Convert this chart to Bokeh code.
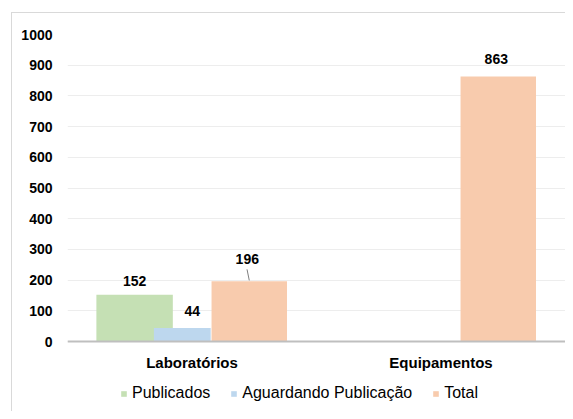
from bokeh.plotting import figure
from bokeh.models import (FactorRange, Range1d, Legend, LegendItem, ColumnDataSource,
                          FixedTicker, InlineStyleSheet, Span)
from bokeh.transform import dodge
from bokeh.core.properties import value
from bokeh.embed import file_html
from bokeh.resources import INLINE

categories = ["Laboratórios", "Equipamentos"]
publicados = [152, 0]
aguardando = [44, 0]
total = [196, 863]
series_names = ["Publicados", "Aguardando Publicação", "Total"]
y_ticks = [0, 100, 200, 300, 400, 500, 600, 700, 800, 900, 1000]

colors = ["#c5e0b4", "#bdd7ee", "#f8cbad"]
offsets = [-0.2305, -0.039, 0.23]
widths = [0.307, 0.228, 0.303]
# label pixel offsets per series, per category
label_dx = [[0, 0], [10, 0], [-2, -2]]
label_dy = [[-14, -14], [-17, -17], [-22, -18]]

FONT = "Liberation Sans"

p = figure(x_range=FactorRange(factors=categories, range_padding=0),
           y_range=Range1d(-228, 1000), width=565, height=411,
           output_backend="svg", toolbar_location=None,
           min_border_left=67, min_border_right=0, min_border_top=34, min_border_bottom=0)
p.outline_line_color = None
p.background_fill_color = "white"
p.border_fill_color = "white"

src = ColumnDataSource(dict(cat=categories, s0=publicados, s1=aguardando, s2=total))
renderers = []
for i, key in enumerate(["s0", "s1", "s2"]):
    r = p.vbar(x=dodge("cat", offsets[i], range=p.x_range), top=key, bottom=0, width=widths[i],
               source=src, fill_color=colors[i], line_color=None)
    renderers.append(r)

# baseline (category axis line)
p.add_layout(Span(location=0, dimension="width", line_color="#bfbfbf", line_width=2))

# data labels
for i, key in enumerate(["s0", "s1", "s2"]):
    vals = src.data[key]
    keep = [j for j, v in enumerate(vals) if v > 0]
    lsrc = ColumnDataSource(dict(cat=[categories[j] for j in keep], v=[vals[j] for j in keep],
                                 t=[str(vals[j]) for j in keep],
                                 dx=[label_dx[i][j] for j in keep], dy=[label_dy[i][j] for j in keep]))
    p.text(x=dodge("cat", offsets[i], range=p.x_range), y="v", text="t", source=lsrc,
           x_offset="dx", y_offset="dy", text_align="center",
           text_baseline="middle", text_font=value(FONT), text_font_style="bold",
           text_font_size="14px", text_color="#000000")

# leader line for the 196 label
p.segment(x0=[(categories[0], offsets[2] - 0.009)], y0=[total[0] + 39],
          x1=[(categories[0], offsets[2] - 0.0)], y1=[total[0] + 3],
          line_color="#7f7f7f", line_width=1)

# category labels
csrc = ColumnDataSource(dict(cat=categories, y=[0] * len(categories)))
p.text(x="cat", y="y", text="cat", source=csrc, y_offset=21, text_align="center",
       text_baseline="middle", text_font=value(FONT), text_font_style="bold",
       text_font_size="15px", text_color="#000000")

p.xaxis.visible = False
p.xgrid.grid_line_color = None

p.yaxis.ticker = FixedTicker(ticks=y_ticks)
p.yaxis.axis_line_color = None
p.yaxis.major_tick_line_color = None
p.yaxis.minor_tick_line_color = None
p.yaxis.major_label_text_font = FONT
p.yaxis.major_label_text_font_style = "bold"
p.yaxis.major_label_text_font_size = "14px"
p.yaxis.major_label_text_color = "#000000"
p.yaxis.major_label_standoff = 9
p.ygrid.grid_line_color = "#ededed"
p.ygrid.grid_line_width = 1

legend = Legend(items=[LegendItem(label=n, renderers=[r]) for n, r in zip(series_names, renderers)],
                orientation="horizontal", location=(53, 9),
                label_text_font=FONT, label_text_font_size="16px", label_text_color="#000000",
                glyph_width=7, glyph_height=7, label_standoff=5, spacing=20,
                padding=0, margin=0, border_line_color=None, background_fill_alpha=0)
p.add_layout(legend, "center")

p.stylesheets = [InlineStyleSheet(css=""":host::after { content: ''; position: absolute; left: 11px; top: 12px; right: 0; bottom: 0;
  border-left: 1px solid #d9d9d9; border-top: 1px solid #d9d9d9; pointer-events: none; z-index: 10; }""")]

open("out.html", "w").write(file_html(p, INLINE))
